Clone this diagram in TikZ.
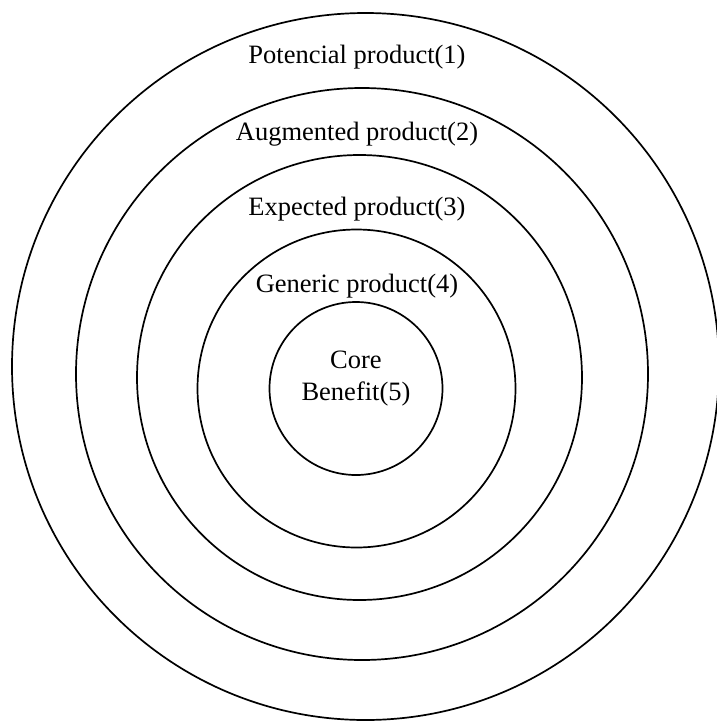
\documentclass[tikz,border=0pt]{standalone}
\usepackage{fontspec}
\setmainfont{Liberation Serif}
\tikzset{
  every picture/.style={line join=round, line cap=round},
  ring/.style={line width=1.7pt},
  ringlabel/.style={anchor=base, inner sep=0pt, font=\fontsize{26.5}{32}\selectfont},
}
\begin{document}
\begin{tikzpicture}[x=1pt,y=-1pt]
\useasboundingbox (0,0) rectangle (716,724);
% rings, outer to inner
\foreach \cx/\cy/\r in {365.5/366.5/353.5, 362/374/286, 359.5/377.5/222.5,
                        356.5/388.5/159, 356/388.5/86.5}{
  \draw[ring] (\cx,\cy) circle[radius=\r];
}
% labels
\foreach \n/\y/\lab in {1/63/{Potencial product(1)}, 2/140/{Augmented product(2)},
                        3/215/{Expected product(3)}, 4/292/{Generic product(4)}}{
  \node[ringlabel] (ring\n) at (357,\y) {\lab};
}
\node[ringlabel, align=center] (core) at (356,400) {Core\\Benefit(5)};
\end{tikzpicture}
\end{document}
